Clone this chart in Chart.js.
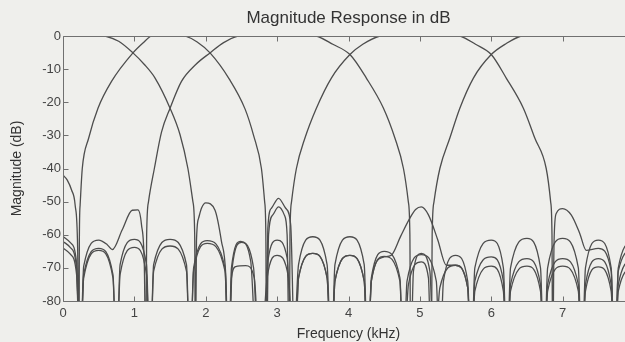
<!DOCTYPE html>
<html>
<head>
<meta charset="utf-8">
<script src="https://cdn.jsdelivr.net/npm/chart.js"></script>
<style>
  html, body { margin: 0; padding: 0; background: #efefec; overflow: hidden; }
  #wrap { width: 697px; height: 342px; }
</style>
</head>
<body>
<div id="wrap"><canvas id="magChart" width="697" height="342"></canvas></div>
<script>
// tick values
const FREQ_TICKS = [0, 1, 2, 3, 4, 5, 6, 7, 8];
const DB_TICKS = [-80, -70, -60, -50, -40, -30, -20, -10, 0];

// [frequency kHz, magnitude dB]; -100 marks a null below the axis
const bandA = [
  [0, 0.8], [0.3, 0.8], [0.59, 0], [0.78, -1.6], [0.98, -5.1], [1.14, -8.6], [1.29, -12.7], [1.5, -21.8],
  [1.64, -29.8], [1.75, -40], [1.82, -50], [1.845, -60], [1.855, -100],
  [1.87, -62], [1.9, -55], [1.94, -52], [2.0, -50.4], [2.13, -52.6], [2.22, -62], [2.28, -72], [2.32, -100],
  [2.36, -70], [2.49, -62], [2.63, -68], [2.72, -100],
  [2.82, -100], [2.87, -68], [3.0, -61.6], [3.14, -67], [3.22, -100],
  [3.3, -69], [3.5, -60.6], [3.7, -69], [3.76, -100],
  [3.81, -69], [4.02, -60.6], [4.22, -69], [4.27, -100],
  [4.32, -73], [4.5, -65], [4.72, -73], [4.77, -100],
  [4.82, -74], [5.02, -66], [5.23, -74], [5.28, -100],
  [5.33, -74], [5.5, -66.2], [5.67, -74], [5.72, -100],
  [5.77, -70], [6.0, -61.6], [6.17, -70], [6.22, -100],
  [6.27, -70], [6.5, -61.1], [6.69, -70], [6.74, -100],
  [6.79, -70], [7.0, -61.1], [7.22, -70], [7.27, -100],
  [7.32, -70], [7.5, -61.6], [7.68, -70], [7.73, -100],
  [7.78, -70], [8.0, -61.5]
];

const bandB = [
  [0, -42], [0.06, -43.5], [0.12, -46.5], [0.17, -51], [0.205, -64], [0.225, -100],
  [0.229, -62], [0.24, -51], [0.27, -40], [0.36, -30.8], [0.49, -21.8], [0.68, -13.7], [0.98, -5.1], [1.12, -2.1],
  [1.24, 0], [1.47, 0.6], [1.71, 0], [1.88, -1.8], [2.06, -5.1], [2.33, -13], [2.55, -22], [2.67, -30],
  [2.78, -40], [2.825, -50], [2.842, -60], [2.85, -100],
  [2.87, -58], [2.92, -52], [3.02, -49], [3.12, -52], [3.19, -57], [3.25, -100],
  [3.3, -73], [3.5, -65.6], [3.7, -73], [3.76, -100],
  [3.81, -74], [4.02, -66.2], [4.22, -74], [4.27, -100],
  [4.32, -74], [4.48, -66.8], [4.6, -66.2], [4.73, -60.5], [4.86, -55], [4.94, -52.4], [5.02, -51.6],
  [5.12, -54], [5.25, -61.5], [5.37, -69.2], [5.5, -69.2], [5.67, -76], [5.72, -100],
  [5.77, -74], [6.0, -66.7], [6.17, -74], [6.22, -100],
  [6.27, -75], [6.5, -67.2], [6.69, -75], [6.74, -100],
  [6.79, -75], [7.0, -67.2], [7.22, -75], [7.27, -100],
  [7.32, -75], [7.5, -67.2], [7.68, -75], [7.73, -100],
  [7.78, -75], [8.0, -67]
];

const bandC = [
  [0, -60.5], [0.1, -62.3], [0.19, -68.5], [0.24, -100],
  [0.29, -69.5], [0.5, -61.6], [0.62, -63], [0.69, -64.5], [0.83, -58.5], [0.97, -52.6], [1.05, -52.5],
  [1.1, -57], [1.14, -70], [1.16, -100],
  [1.172, -60], [1.198, -50], [1.28, -40], [1.38, -29], [1.5, -21.8], [1.66, -13.7], [1.86, -8.6], [2.06, -5.1],
  [2.25, -2], [2.45, 0], [3.0, 1], [3.55, 0], [3.78, -2.5], [4.02, -5.6], [4.25, -12.7], [4.49, -21.8],
  [4.65, -30.8], [4.77, -40], [4.838, -50], [4.86, -60], [4.87, -100],
  [4.91, -71], [5.02, -65.6], [5.14, -71], [5.2, -100],
  [5.28, -76], [5.5, -69.2], [5.67, -76], [5.72, -100],
  [5.77, -77], [6.0, -69.5], [6.17, -77], [6.22, -100],
  [6.27, -77], [6.5, -69.5], [6.69, -77], [6.74, -100],
  [6.79, -77], [7.0, -69.5], [7.22, -77], [7.27, -100],
  [7.32, -77], [7.5, -69.7], [7.68, -77], [7.73, -100],
  [7.78, -77], [8.0, -69.5]
];

const bandD = [
  [0, -62], [0.1, -63.8], [0.19, -70], [0.24, -100],
  [0.29, -72], [0.5, -64.1], [0.7, -72], [0.75, -100],
  [0.8, -69], [1.0, -61.4], [1.17, -69], [1.22, -100],
  [1.27, -69], [1.5, -61.4], [1.73, -69], [1.78, -100],
  [1.83, -70], [2.02, -61.8], [2.27, -70], [2.32, -100],
  [2.37, -70], [2.5, -62.3], [2.67, -70], [2.74, -100],
  [2.85, -100], [2.88, -60], [2.94, -54], [3.02, -51.6], [3.1, -54], [3.14, -60], [3.17, -100],
  [3.18, -60], [3.202, -50], [3.27, -40], [3.39, -30.8], [3.55, -21.8], [3.76, -12.7], [4.02, -5.6],
  [4.2, -2.5], [4.44, 0], [5.0, 1], [5.56, 0], [5.78, -2.5], [6.0, -5.6], [6.21, -12.7], [6.45, -21.8],
  [6.61, -30.8], [6.77, -40], [6.832, -50], [6.851, -60], [6.86, -100],
  [6.88, -62], [6.91, -53.6], [7.0, -52.1], [7.12, -54], [7.24, -59.6], [7.33, -64.7], [7.5, -64.1],
  [7.68, -71], [7.73, -100],
  [7.78, -71], [8.0, -64]
];

const bandE = [
  [0, -64], [0.1, -65.8], [0.19, -72], [0.24, -100],
  [0.29, -73], [0.5, -64.7], [0.7, -73], [0.75, -100],
  [0.8, -72], [1.0, -63.8], [1.17, -72], [1.22, -100],
  [1.27, -71], [1.5, -63.4], [1.73, -71], [1.78, -100],
  [1.83, -71], [2.02, -62.6], [2.27, -71], [2.32, -100],
  [2.36, -73], [2.42, -69.6], [2.56, -69.3], [2.68, -73], [2.76, -100],
  [2.86, -73], [3.0, -66.2], [3.16, -73], [3.24, -100],
  [3.3, -73], [3.5, -65.6], [3.7, -73], [3.76, -100],
  [3.81, -74], [4.02, -66.2], [4.22, -74], [4.27, -100],
  [4.32, -74], [4.5, -66.5], [4.72, -74], [4.77, -100],
  [4.84, -75], [5.02, -68.2], [5.12, -73], [5.16, -100],
  [5.172, -60], [5.198, -50], [5.28, -40], [5.42, -30.8], [5.56, -21.8], [5.75, -12.7], [6.0, -5.6],
  [6.2, -2.4], [6.42, 0], [7.0, 1], [7.6, 0.5], [8.0, 0]
];

const BANDS = [bandA, bandB, bandC, bandD, bandE];

const FONT = "'Liberation Sans', Arial, sans-serif";
const LINE = '#4d4d4d';
const AXIS = '#707070';

// MATLAB style box with ticks pointing inward
const insideTicks = {
  id: 'insideTicks',
  afterDatasetsDraw(chart) {
    const { ctx, chartArea: a, scales: { x, y } } = chart;
    const L = Math.round(a.left) + 0.5, R = Math.round(a.right) + 0.5;
    const T = Math.round(a.top) + 0.5, B = Math.round(a.bottom) + 0.5;
    const len = 5;
    ctx.save();
    ctx.strokeStyle = AXIS;
    ctx.lineWidth = 1;
    ctx.beginPath();
    ctx.rect(L, T, R - L, B - T);
    x.ticks.forEach(t => {
      const px = Math.round(x.getPixelForValue(t.value)) + 0.5;
      ctx.moveTo(px, B); ctx.lineTo(px, B - len);
      ctx.moveTo(px, T); ctx.lineTo(px, T + len);
    });
    y.ticks.forEach(t => {
      const py = Math.round(y.getPixelForValue(t.value)) + 0.5;
      ctx.moveTo(L, py); ctx.lineTo(L + len, py);
      ctx.moveTo(R, py); ctx.lineTo(R - len, py);
    });
    ctx.stroke();
    ctx.restore();
  }
};

const magChart = new Chart(document.getElementById('magChart'), {
  type: 'line',
  data: {
    datasets: BANDS.map(band => ({
      data: band.map(([f, db]) => ({ x: f, y: db })),
      borderColor: LINE,
      borderWidth: 1.3,
      pointRadius: 0,
      fill: false,
      cubicInterpolationMode: 'monotone',
      clip: 0
    }))
  },
  options: {
    responsive: false,
    animation: false,
    events: [],
    layout: { padding: { left: 0, right: 63, top: 0, bottom: 0 } },
    plugins: {
      legend: { display: false },
      tooltip: { enabled: false },
      title: {
        display: true,
        fullSize: false,
        text: 'Magnitude Response in dB',
        color: '#333',
        font: { family: FONT, size: 17, weight: 'normal' },
        padding: { top: 8, bottom: 7.6 }
      }
    },
    scales: {
      x: {
        type: 'linear',
        min: 0,
        max: 8,
        afterBuildTicks: s => { s.ticks = FREQ_TICKS.map(v => ({ value: v })); },
        afterFit: s => { s.height = 41; },
        grid: { display: false, drawTicks: false },
        border: { display: false },
        ticks: { color: '#444', font: { family: FONT, size: 13 }, padding: 5, maxRotation: 0 },
        title: {
          display: true,
          text: 'Frequency (kHz)',
          color: '#333',
          font: { family: FONT, size: 14, lineHeight: 1 },
          padding: { top: 0, bottom: 1 }
        }
      },
      y: {
        min: -80,
        max: 0,
        afterBuildTicks: s => { s.ticks = DB_TICKS.map(v => ({ value: v })); },
        afterFit: s => { s.width = 63; },
        grid: { display: false, drawTicks: false },
        border: { display: false },
        ticks: { color: '#444', font: { family: FONT, size: 13 }, padding: 2 },
        title: {
          display: true,
          text: 'Magnitude (dB)',
          color: '#333',
          font: { family: FONT, size: 14 },
          padding: { top: 9, bottom: 0 }
        }
      }
    }
  },
  plugins: [insideTicks]
});
</script>
</body>
</html>
